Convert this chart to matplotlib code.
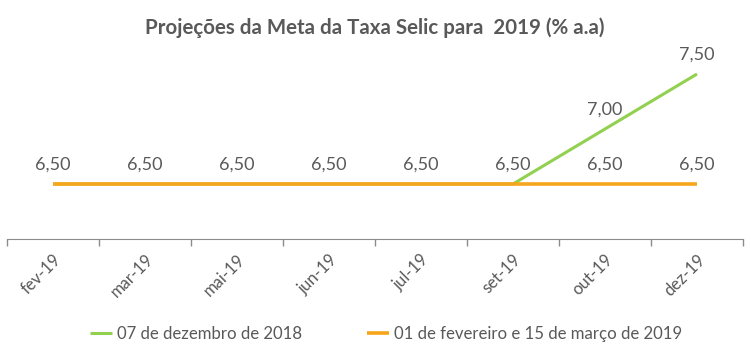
import matplotlib.pyplot as plt

# Data
meses = ["fev-19", "mar-19", "mai-19", "jun-19", "jul-19", "set-19", "out-19", "dez-19"]
dez_2018 = [6.50, 6.50, 6.50, 6.50, 6.50, 6.50, 7.00, 7.50]
fev_mar_2019 = [6.50, 6.50, 6.50, 6.50, 6.50, 6.50, 6.50, 6.50]

plt.rcParams["font.family"] = ["Lato", "DejaVu Sans"]
cinza = "#595959"
verde = "#92D050"
laranja = "#F7A51B"

fig = plt.figure(figsize=(7.51, 3.57), dpi=100)
ax = fig.add_axes([7 / 751, 118 / 357, 736 / 751, 220 / 357])

x = range(len(meses))
ax.plot(x, dez_2018, color=verde, lw=2.2, label="07 de dezembro de 2018", solid_capstyle="butt", zorder=2)
ax.plot(x, fev_mar_2019, color=laranja, lw=2.6, label="01 de fevereiro e 15 de março de 2019", solid_capstyle="butt", zorder=3)

# data labels
for i, v in enumerate(fev_mar_2019):
    ax.annotate(f"{v:.2f}".replace(".", ","), (i, v), xytext=(0, 13.7), textcoords="offset points",
                ha="center", va="center", fontsize=13, color=cinza)
for i, v in enumerate(dez_2018):
    if v != fev_mar_2019[i]:
        ax.annotate(f"{v:.2f}".replace(".", ","), (i, v), xytext=(0, 13.7), textcoords="offset points",
                    ha="center", va="center", fontsize=13, color=cinza)

ax.set_xlim(-0.5, len(meses) - 0.5)
ax.set_ylim(6.0, 8.0)
ax.set_yticks([])
ax.set_xticks([i + 0.5 for i in range(-1, len(meses))], minor=False)
ax.set_xticklabels([])
ax.tick_params(axis="x", length=5, color="#8c8c8c", width=1)
ax.set_xticks(list(x), minor=True)
ax.set_xticklabels(meses, minor=True, rotation=45, ha="right", rotation_mode="anchor",
                   fontsize=12, color=cinza)
ax.tick_params(axis="x", which="minor", length=0, pad=9)

for s in ["top", "left", "right"]:
    ax.spines[s].set_visible(False)
ax.spines["bottom"].set_color("#8c8c8c")

fig.text(375 / 751, 1 - 28 / 357, "Projeções da Meta da Taxa Selic para  2019 (% a.a)", ha="center", va="center",
         fontsize=14.8, fontweight="bold", color=cinza)

leg = fig.legend(loc="center", bbox_to_anchor=(386 / 751, 1 - 334 / 357), ncol=2, frameon=False,
                 fontsize=12.1, handlelength=1.3, handletextpad=0.3, columnspacing=3.9)
for t in leg.get_texts():
    t.set_color(cinza)

fig.savefig("out.png", dpi=100)
